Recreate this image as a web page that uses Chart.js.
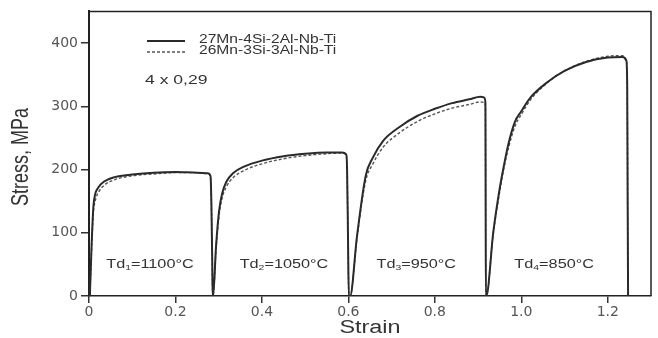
<!DOCTYPE html>
<html>
<head>
<meta charset="utf-8">
<script src="https://cdn.jsdelivr.net/npm/chart.js@4"></script>
<style>
  body { margin: 0; background: #fff; }
  canvas { display: block; }
</style>
</head>
<body>
<canvas id="chart" width="658" height="338"></canvas>
<script>
// Series labels
const seriesNames = ['27Mn-4Si-2Al-Nb-Ti', '26Mn-3Si-3Al-Nb-Ti'];

// 27Mn-4Si-2Al-Nb-Ti (solid) - four passes, one after the other
const strainA = [
    0.002, 0.006, 0.010, 0.014, 0.022, 0.035, 0.06, 0.10, 0.15, 0.20, 0.25, 0.275, 0.281, 0.283, 0.285, 0.286,
    0.287, 0.294, 0.301, 0.308, 0.318, 0.333, 0.36, 0.40, 0.45, 0.50, 0.55, 0.585, 0.595, 0.597, 0.599, 0.601,
    0.604, 0.62, 0.64, 0.656, 0.68, 0.72, 0.76, 0.80, 0.84, 0.88, 0.905, 0.914, 0.917, 0.9175, 0.918,
    0.919, 0.935, 0.950, 0.960, 0.970, 0.985, 1.00, 1.02, 1.06, 1.10, 1.15, 1.20, 1.235, 1.243, 1.245, 1.246, 1.247
];
const stressA = [
    0, 80, 140, 160, 172, 181, 188, 192, 195, 196, 195, 194, 190, 150, 60, 0,
    0, 80, 135, 162, 181, 194, 205, 214, 221, 225, 227, 227, 224, 200, 100, 0,
    0, 95, 190, 218, 245, 268, 285, 296, 305, 311, 315, 314, 306, 150, 0,
    0, 100, 170, 207, 240, 275, 292, 313, 338, 356, 370, 377, 378, 372, 330, 150, 0
];

// 26Mn-3Si-3Al-Nb-Ti (dashed)
const strainB = [
    0.002, 0.006, 0.010, 0.015, 0.022, 0.035, 0.06, 0.10, 0.15, 0.20, 0.25, 0.277, 0.281, 0.283, 0.285, 0.286,
    0.287, 0.294, 0.301, 0.308, 0.318, 0.333, 0.36, 0.40, 0.45, 0.50, 0.55, 0.585, 0.595, 0.597, 0.599, 0.601,
    0.604, 0.62, 0.64, 0.656, 0.68, 0.72, 0.76, 0.80, 0.84, 0.88, 0.905, 0.914, 0.917, 0.9175, 0.918,
    0.919, 0.935, 0.950, 0.960, 0.970, 0.985, 1.00, 1.02, 1.06, 1.10, 1.15, 1.20, 1.235, 1.243, 1.245, 1.246, 1.247
];
const stressB = [
    0, 75, 130, 152, 164, 175, 184, 190, 193, 195, 195, 193, 188, 150, 60, 0,
    0, 75, 128, 155, 173, 187, 199, 209, 217, 222, 225, 226, 223, 200, 100, 0,
    0, 92, 182, 208, 235, 259, 276, 288, 297, 303, 307, 306, 300, 150, 0,
    0, 98, 165, 203, 233, 268, 287, 309, 337, 356, 371, 379, 380, 373, 330, 150, 0
];

// Axis ticks
const xTickValues = [0, 0.2, 0.4, 0.6, 0.8, 1.0, 1.2];
const xTickLabels = ['0', '0.2', '0.4', '0.6', '0.8', '1.0', '1.2'];
const yTickValues = [0, 100, 200, 300, 400];
const yTickLabels = ['0', '100', '200', '300', '400'];

// Deformation temperature per pass
const passIndex = ['1', '2', '3', '4'];
const passTemps = ['=1100°C', '=1050°C', '=950°C', '=850°C'];
const passLabelStrain = [0.141, 0.451, 0.757, 1.076];
const passLabelStress = [50, 50, 50, 50];

const toPoints = (xs, ys) => xs.map((x, i) => ({ x: x, y: ys[i] }));

const STRETCH = 1.3; // the source picture is wider than tall text would suggest
const FONT = '"Liberation Sans", Arial, sans-serif';
const TEXT = '#333';

function wideText(ctx, text, x, y, size, align) {
    ctx.save();
    ctx.translate(x, y);
    ctx.scale(STRETCH, 1);
    ctx.font = size + 'px ' + FONT;
    ctx.textAlign = align || 'left';
    ctx.textBaseline = 'middle';
    ctx.fillStyle = TEXT;
    ctx.fillText(text, 0, 0);
    ctx.restore();
}

function textWidth(ctx, text, size) {
    ctx.font = size + 'px ' + FONT;
    return ctx.measureText(text).width * STRETCH;
}

const decorations = {
    id: 'decorations',
    afterDraw(chart) {
        const ctx = chart.ctx;
        const a = chart.chartArea;
        const xs = chart.scales.x, ys = chart.scales.y;

        // top and right frame
        ctx.save();
        ctx.strokeStyle = '#222';
        ctx.lineWidth = 1.5;
        ctx.beginPath();
        ctx.moveTo(a.left, a.top);
        ctx.lineTo(a.right, a.top);
        ctx.lineTo(a.right, a.bottom);
        ctx.stroke();
        ctx.restore();

        // legend
        chart.data.datasets.forEach((ds, i) => {
            const y = 40 + i * 11;
            ctx.save();
            ctx.strokeStyle = ds.borderColor;
            ctx.lineWidth = ds.borderWidth;
            ctx.setLineDash(ds.borderDash || []);
            ctx.beginPath();
            ctx.moveTo(147, y + 1);
            ctx.lineTo(185, y + 1);
            ctx.stroke();
            ctx.restore();
            wideText(ctx, ds.label, 199, y, 12);
        });
        wideText(ctx, '4 x 0,29', 145, 80, 13.5);

        // pass labels Td with subscript
        passTemps.forEach((t, i) => {
            const cx = xs.getPixelForValue(passLabelStrain[i]);
            const cy = ys.getPixelForValue(passLabelStress[i]);
            const w1 = textWidth(ctx, 'Td', 12.5);
            const w2 = textWidth(ctx, passIndex[i], 8);
            const w3 = textWidth(ctx, t, 12.5);
            let left = cx - (w1 + w2 + w3) / 2;
            wideText(ctx, 'Td', left, cy, 12.5);
            wideText(ctx, passIndex[i], left + w1, cy + 3, 8);
            wideText(ctx, t, left + w1 + w2, cy, 12.5);
        });

        // axis titles
        wideText(ctx, 'Strain', (a.left + a.right) / 2, 328, 18, 'center');
        ctx.save();
        ctx.translate(22, 157);
        ctx.rotate(-Math.PI / 2);
        ctx.scale(1, STRETCH);
        ctx.font = '18px ' + FONT;
        ctx.textAlign = 'center';
        ctx.textBaseline = 'middle';
        ctx.fillStyle = TEXT;
        ctx.fillText('Stress, MPa', 0, 0);
        ctx.restore();
    }
};

const tickFont = { family: '"DejaVu Sans", sans-serif', size: 14 };

new Chart(document.getElementById('chart'), {
    type: 'line',
    data: {
        datasets: [
            {
                label: seriesNames[0],
                data: toPoints(strainA, stressA),
                borderColor: '#2a2a2a',
                borderWidth: 2,
                pointRadius: 0,
                cubicInterpolationMode: 'monotone',
                fill: false
            },
            {
                label: seriesNames[1],
                data: toPoints(strainB, stressB),
                borderColor: '#555',
                borderWidth: 1.4,
                borderDash: [3, 2],
                pointRadius: 0,
                cubicInterpolationMode: 'monotone',
                fill: false
            }
        ]
    },
    options: {
        responsive: false,
        animation: false,
        layout: { padding: { top: 9, right: 7, left: 0, bottom: 0 } },
        plugins: {
            legend: { display: false },
            tooltip: { enabled: false }
        },
        scales: {
            x: {
                type: 'linear',
                min: 0,
                max: 1.3,
                afterBuildTicks: s => { s.ticks = xTickValues.map(v => ({ value: v })); },
                afterFit: s => { s.height = 42; },
                ticks: {
                    callback: (v, i) => xTickLabels[i],
                    font: tickFont,
                    color: '#555',
                    padding: 1,
                    maxRotation: 0,
                    autoSkip: false
                },
                grid: { drawOnChartArea: false, tickLength: 7, color: '#333', lineWidth: 1.5 },
                border: { color: '#222', width: 1.5 }
            },
            y: {
                min: 0,
                max: 450,
                afterBuildTicks: s => { s.ticks = yTickValues.map(v => ({ value: v })); },
                afterFit: s => { s.width = 89; },
                ticks: {
                    callback: (v, i) => yTickLabels[i],
                    font: tickFont,
                    color: '#555',
                    padding: 3
                },
                grid: { drawOnChartArea: false, tickLength: 8, color: '#333', lineWidth: 1.5 },
                border: { color: '#222', width: 2 }
            }
        }
    },
    plugins: [decorations]
});
</script>
</body>
</html>
